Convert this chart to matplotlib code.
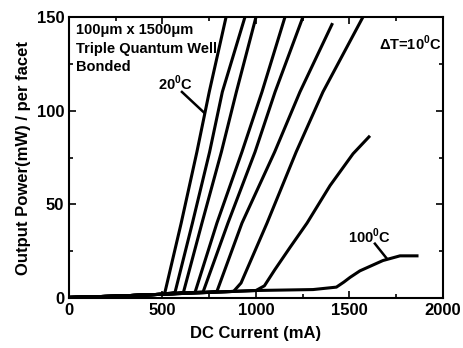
import matplotlib
matplotlib.use("Agg")
import matplotlib.pyplot as plt
from matplotlib.ticker import MultipleLocator

plt.rcParams['font.family'] = ['Liberation Sans', 'DejaVu Sans']
plt.rcParams['font.weight'] = 'bold'
plt.rcParams['mathtext.fontset'] = 'custom'
plt.rcParams['mathtext.rm'] = 'Liberation Sans:bold'
plt.rcParams['mathtext.bf'] = 'Liberation Sans:bold'

# -----------------------------
# L-I curves, 20C .. 100C in 10C steps
# -----------------------------
i_20 = [0, 250, 500, 513, 600, 684, 750, 840]
p_20 = [0.3, 1.0, 2.0, 3.0, 40, 78, 110, 150]

i_30 = [0, 250, 500, 567, 660, 752, 820, 941]
p_30 = [0.3, 1.0, 2.0, 3.0, 40, 78, 110, 150]

i_40 = [0, 250, 500, 612, 711, 815, 895, 1000]
p_40 = [0.3, 1.0, 2.0, 3.0, 40, 78, 110, 150]

i_50 = [0, 250, 500, 674, 791, 925, 1032, 1155]
p_50 = [0.3, 1.0, 2.0, 3.0, 40, 78, 110, 150]

i_60 = [0, 250, 500, 717, 850, 995, 1102, 1251]
p_60 = [0.3, 1.0, 2.0, 3.2, 40, 78, 110, 150]

i_70 = [0, 250, 500, 791, 925, 1100, 1235, 1406]
p_70 = [0.3, 1.0, 2.0, 3.5, 40, 78, 110, 146]

i_80 = [0, 250, 500, 880, 920, 1059, 1215, 1358, 1572]
p_80 = [0.3, 1.0, 2.0, 3.5, 8, 40, 78, 110, 150]

i_90 = [0, 250, 500, 1000, 1045, 1100, 1182, 1273, 1396, 1519, 1604]
p_90 = [0.3, 1.0, 2.0, 4.0, 6.5, 15, 27, 40, 60, 77, 86]

i_100 = [0, 250, 500, 1000, 1305, 1430, 1470, 1503, 1556, 1679, 1770, 1861]
p_100 = [0.3, 1.0, 2.0, 4.0, 4.5, 5.8, 8.5, 11, 14.5, 20, 22.5, 22.5]

currents = [i_20, i_30, i_40, i_50, i_60, i_70, i_80, i_90, i_100]
powers = [p_20, p_30, p_40, p_50, p_60, p_70, p_80, p_90, p_100]

# -----------------------------
# Figure
# -----------------------------
fig = plt.figure(figsize=(4.64, 3.48), dpi=100)
ax = fig.add_axes([0.1487, 0.1437, 0.806, 0.8074])

for cur, pw in zip(currents, powers):
    ax.plot(cur, pw, color='black', lw=2.2, solid_joinstyle='round')

ax.set_xlim(0, 2000)
ax.set_ylim(0, 150)
ax.xaxis.set_major_locator(MultipleLocator(500))
ax.xaxis.set_minor_locator(MultipleLocator(250))
ax.yaxis.set_major_locator(MultipleLocator(50))
ax.yaxis.set_minor_locator(MultipleLocator(25))
ax.tick_params(which='both', direction='in', top=True, right=True,
               labelsize=12, width=1.2)
ax.tick_params(which='major', length=5)
ax.tick_params(which='minor', length=3)
for lab in ax.get_xticklabels() + ax.get_yticklabels():
    lab.set_fontweight('bold')
for sp in ax.spines.values():
    sp.set_linewidth(1.5)

ax.set_xlabel("DC Current (mA)", fontsize=12, fontweight='bold', labelpad=6)
ax.set_ylabel("Output Power(mW) / per facet", fontsize=12, fontweight='bold',
              labelpad=4)

ax.text(35, 143, "100μm x 1500μm", fontsize=10.5, fontweight='bold',
        va='center')
ax.text(35, 133, "Triple Quantum Well", fontsize=10.5, fontweight='bold',
        va='center')
ax.text(35, 123.5, "Bonded", fontsize=10.5, fontweight='bold', va='center')
ax.text(1660, 136, r"$\Delta$T=10$^{0}$C", fontsize=10.5, fontweight='bold',
        va='center')

ax.text(475, 114.5, r"20$^{0}$C", fontsize=10.5, fontweight='bold',
        va='center')
ax.plot([604, 722], [110, 99], color='black', lw=1.8)

ax.text(1490, 33, r"100$^{0}$C", fontsize=10.5, fontweight='bold',
        va='center')
ax.plot([1636, 1700], [29, 21], color='black', lw=1.8)

fig.savefig("out.png", dpi=100)
